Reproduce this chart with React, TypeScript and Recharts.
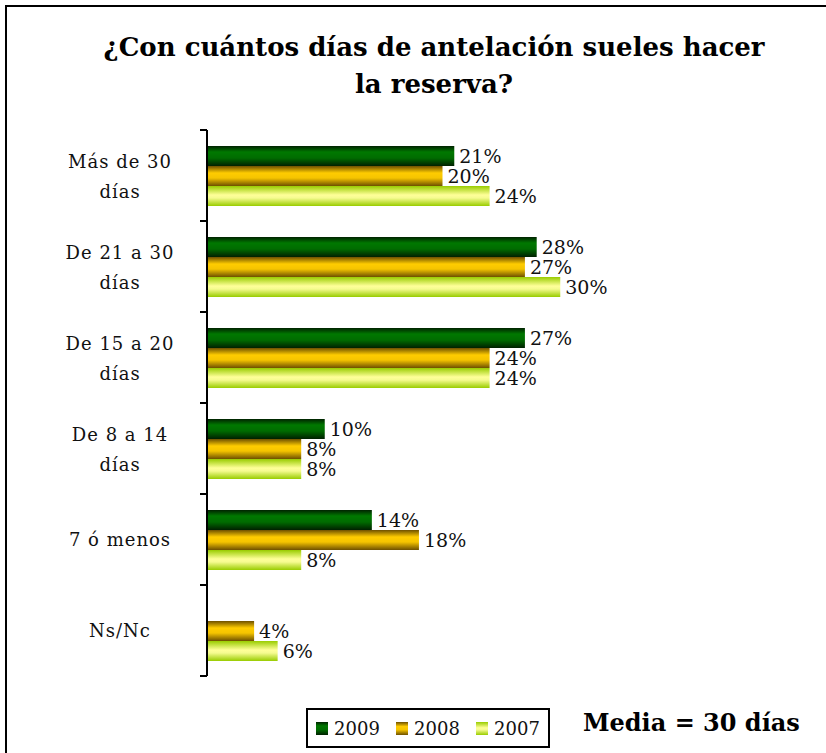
import { Bar, BarChart, LabelList, Legend, XAxis, YAxis } from "recharts";

const categories = [
  "Más de 30\ndías",
  "De 21 a 30\ndías",
  "De 15 a 20\ndías",
  "De 8 a 14\ndías",
  "7 ó menos",
  "Ns/Nc",
];
const values2009 = [21, 28, 27, 10, 14, null];
const values2008 = [20, 27, 24, 8, 18, 4];
const values2007 = [24, 30, 24, 8, 8, 6];

const series = [
  { key: "y2009", name: "2009", grad: "g2009" },
  { key: "y2008", name: "2008", grad: "g2008" },
  { key: "y2007", name: "2007", grad: "g2007" },
];

const data = categories.map((cat, i) => ({
  cat,
  y2009: values2009[i],
  y2008: values2008[i],
  y2007: values2007[i],
}));

const SERIF = "'DejaVu Serif', serif";
const BAND = 91;

const CategoryTick = ({ y, payload, index }: any) => {
  const lines = String(payload.value).split("\n");
  const cx = 120;
  const start = lines.length === 1 ? 0 : -14;
  return (
    <g>
      <line x1={207} x2={200} y1={y - BAND / 2} y2={y - BAND / 2} stroke="#000" strokeWidth={2} />
      {index === categories.length - 1 && (
        <line x1={207} x2={200} y1={y + BAND / 2} y2={y + BAND / 2} stroke="#000" strokeWidth={2} />
      )}
      {lines.map((l: string, k: number) => (
        <text
          key={k}
          x={cx}
          y={y + start + k * 30}
          textAnchor="middle"
          dominantBaseline="central"
          fontFamily={SERIF}
          fontSize={18}
          letterSpacing={1}
          fill="#111"
        >
          {l}
        </text>
      ))}
    </g>
  );
};

const ValueLabel = ({ x, y, width, height, value }: any) => {
  if (value === null || value === undefined) return null;
  return (
    <text
      x={x + width + 5}
      y={y + height / 2}
      dominantBaseline="central"
      fontFamily={SERIF}
      fontSize={19}
      fill="#111"
    >
      {value}%
    </text>
  );
};

const LegendBox = () => (
  <div
    style={{
      border: "2px solid #000",
      width: 240,
      height: 36,
      display: "flex",
      alignItems: "center",
      justifyContent: "space-around",
      background: "#fff",
      fontFamily: SERIF,
      fontSize: 18,
      color: "#111",
    }}
  >
    {series.map((s) => (
      <span key={s.key} style={{ display: "flex", alignItems: "center" }}>
        <svg width={12} height={13} style={{ marginRight: 6 }}>
          <rect width={12} height={13} fill={`url(#${s.grad})`} />
        </svg>
        {s.name}
      </span>
    ))}
  </div>
);

export default function App() {
  return (
    <div
      style={{
        position: "absolute",
        left: 0,
        top: 0,
        width: 826,
        height: 753,
        overflow: "hidden",
        background: "#fff",
      }}
    >
      <div
        style={{
          position: "absolute",
          left: 5,
          top: 5,
          width: 900,
          height: 900,
          border: "2px solid #000",
        }}
      />
      <div
        style={{
          position: "absolute",
          left: 34,
          top: 29,
          width: 800,
          textAlign: "center",
          fontFamily: SERIF,
          fontWeight: "bold",
          fontSize: 26,
          lineHeight: "37px",
          color: "#000",
        }}
      >
        ¿Con cuántos días de antelación sueles hacer
        <br />
        la reserva?
      </div>
      <div
        style={{
          position: "absolute",
          left: 583,
          top: 707,
          fontFamily: SERIF,
          fontWeight: "bold",
          fontSize: 24,
          lineHeight: "32px",
          color: "#000",
        }}
      >
        Media = 30 días
      </div>
      <BarChart
        width={826}
        height={753}
        data={data}
        layout="vertical"
        margin={{ top: 130, right: 148, bottom: 37, left: 0 }}
        barSize={20}
        barGap={0}
      >
        <defs>
          <linearGradient id="g2009" x1="0" y1="0" x2="0" y2="1">
            <stop offset="0" stopColor="#002200" />
            <stop offset="0.3" stopColor="#007800" />
            <stop offset="0.6" stopColor="#006c00" />
            <stop offset="1" stopColor="#002000" />
          </linearGradient>
          <linearGradient id="g2008" x1="0" y1="0" x2="0" y2="1">
            <stop offset="0" stopColor="#6e5000" />
            <stop offset="0.35" stopColor="#ffcc00" />
            <stop offset="0.6" stopColor="#f5c400" />
            <stop offset="1" stopColor="#6e5000" />
          </linearGradient>
          <linearGradient id="g2007" x1="0" y1="0" x2="0" y2="1">
            <stop offset="0" stopColor="#99cc00" />
            <stop offset="0.45" stopColor="#ffff99" />
            <stop offset="0.6" stopColor="#f5fb90" />
            <stop offset="1" stopColor="#99cc00" />
          </linearGradient>
        </defs>
        <XAxis type="number" domain={[0, 40]} hide />
        <YAxis
          type="category"
          dataKey="cat"
          width={207}
          axisLine={{ stroke: "#000", strokeWidth: 2 }}
          tickLine={false}
          tick={<CategoryTick />}
          interval={0}
        />
        <Legend
          content={<LegendBox />}
          wrapperStyle={{ left: 306, top: 708, width: 244, height: 40, bottom: "auto" }}
        />
        {series.map((s) => (
          <Bar
            key={s.key}
            dataKey={s.key}
            name={s.name}
            fill={`url(#${s.grad})`}
            isAnimationActive={false}
          >
            <LabelList dataKey={s.key} content={<ValueLabel />} />
          </Bar>
        ))}
      </BarChart>
    </div>
  );
}
